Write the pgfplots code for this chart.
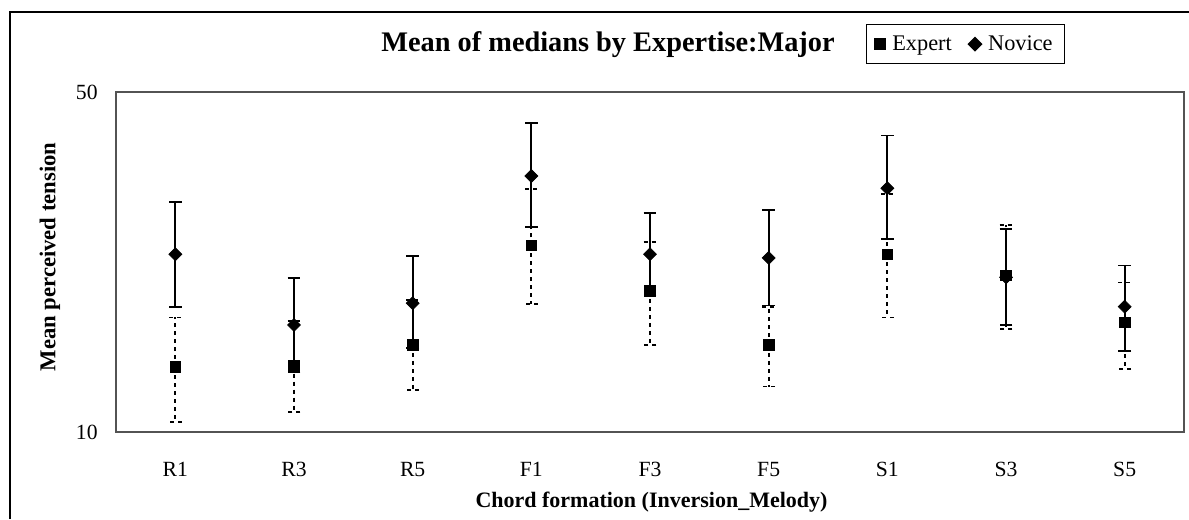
\documentclass[border=0pt]{standalone}
\usepackage{fontspec}
\setmainfont{Liberation Serif}
\usepackage{pgfplots}
\usepackage{pgfplotstable}
\pgfplotsset{compat=1.18}

\pgfplotstableread{
x  e     ep   em   n     np   nm
0  13.6  3.6  3.1  23.2  6.5  5.1
1  13.7  3.2  2.7  16.6  4.1  3.3
2  15.1  3.6  2.9  18.4  4.6  3.5
3  24.2  7.4  5.9  33.6  9.5  7.2
4  19.5  5.1  4.4  23.2  5.0  4.1
5  15.1  3.0  2.7  22.8  5.8  4.6
6  23.2  7.7  6.0  31.7  9.0  6.8
7  21.0  5.6  4.7  20.8  5.3  4.2
8  16.8  3.5  3.3  18.1  3.9  3.4
}\data

\begin{document}
\begin{tikzpicture}
\path[use as bounding box] (0,0) rectangle (713.4pt,311.4pt);
\draw[black, line width=1.2pt] (6pt,0pt) -- (6pt,304.2pt) -- (714pt,304.2pt);
\begin{axis}[
  at={(69.6pt,52.2pt)}, anchor=south west,
  scale only axis, width=640.8pt, height=204pt,
  ymode=log, log basis y=10, ymin=10, ymax=50,
  ytick={10,50}, yticklabels={10,50}, minor ytick={},
  xmin=-0.5, xmax=8.5, xtick={0,...,8},
  xticklabels={R1,R3,R5,F1,F3,F5,S1,S3,S5},
  major tick length=0pt, minor tick length=0pt,
  /pgf/number format/assume math mode=true,
  axis line style={draw=gray!65!black, line width=1.2pt},
  tick label style={font=\fontsize{13}{15}\selectfont},
  xticklabel style={anchor=base, yshift=-26.4pt, inner sep=0pt},
  yticklabel style={anchor=east, xshift=-10.8pt, inner sep=0pt},
  title={Mean of medians by Expertise:Major},
  title style={font=\fontsize{17}{20}\selectfont\bfseries, at={(0.4607,1.091)}, anchor=base},
  xlabel={Chord formation (Inversion\_Melody)},
  xlabel style={font=\fontsize{13.2}{15}\selectfont\bfseries, at={(0.5014,-0.2206)}, anchor=base},
  ylabel={Mean perceived tension},
  ylabel style={font=\fontsize{13.6}{15}\selectfont\bfseries, at={(-0.0618,0.515)}, anchor=center},
  legend columns=2,
  legend style={at={(0.7954,1.141)}, anchor=center, draw=black, line width=0.9pt,
    font=\fontsize{13.4}{15}\selectfont, inner xsep=5pt, inner ysep=4.5pt,
    /tikz/every odd column/.append style={column sep=2pt},
    /tikz/every even column/.append style={column sep=8pt}},
  legend cell align=left,
]
\addplot[only marks, black, mark=square*, mark size=3.2pt,
  error bars/.cd, y dir=both, y explicit,
  error bar style={line width=1.1pt, dash pattern=on 2.4pt off 2.4pt},
  error mark options={black, rotate=90, mark size=3.8pt, line width=1.1pt, dash pattern=on 2.4pt off 2.4pt}]
  table[x=x, y=e, y error plus=ep, y error minus=em] {\data};
\addlegendentry{Expert}
\addplot[only marks, black, mark=square*, mark size=2.75pt, mark options={rotate=45},
  error bars/.cd, y dir=both, y explicit,
  error bar style={line width=1.1pt, solid},
  error mark options={black, rotate=90, mark size=3.8pt, line width=1.1pt, solid}]
  table[x=x, y=n, y error plus=np, y error minus=nm] {\data};
\addlegendentry{Novice}
\end{axis}
\end{tikzpicture}
\end{document}
